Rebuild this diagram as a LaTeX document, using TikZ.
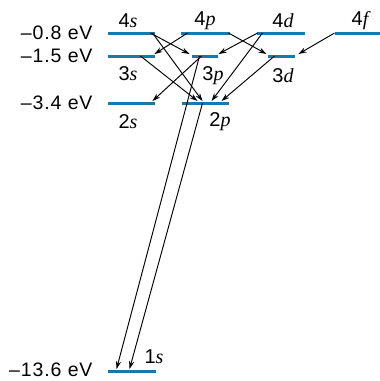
\documentclass[tikz,border=0pt]{standalone}
\usepackage{fontspec}
\setmainfont{Liberation Sans}
\newfontfamily\lserif{Liberation Serif}
\newfontfamily\enfont{Liberation Sans}[LetterSpace=4.5]
\usetikzlibrary{arrows.meta}
\newcommand{\orbl}[1]{{\lserif\itshape #1}}
\definecolor{lvblue}{RGB}{22,122,172}
\begin{document}
\begin{tikzpicture}[x=1pt,y=-1pt,>={Stealth[length=8pt,width=5.2pt]},line width=0.95pt]
  \tikzstyle{level}=[fill=lvblue, inner sep=0pt, minimum height=3pt, draw=none]
  \tikzstyle{energy}=[anchor=east, font=\enfont\fontsize{19.5}{21}\selectfont, inner sep=0pt]
  \tikzstyle{orb}=[font=\fontsize{20}{22}\selectfont, inner sep=0pt]
  \tikzstyle{trans}=[->, black]
  \useasboundingbox (0,0) rectangle (380,381);

  % Energy levels
  \node[level, minimum width=47pt] (s4) at (131.5,33) {};
  \node[level, minimum width=49pt] (p4) at (205.5,33) {};
  \node[level, minimum width=48pt] (d4) at (281,33) {};
  \node[level, minimum width=45pt] (f4) at (357.5,33) {};
  \node[level, minimum width=47pt] (s3) at (131.5,56) {};
  \node[level, minimum width=26pt] (p3) at (205,56) {};
  \node[level, minimum width=27pt] (d3) at (281.5,56) {};
  \node[level, minimum width=47pt] (s2) at (131.5,103) {};
  \node[level, minimum width=47pt] (p2) at (205.5,103) {};
  \node[level, minimum width=48pt] (s1) at (132,371) {};

  % Energy values
  \node[energy] (e4) at (93,33) {\textendash0.8 eV};
  \node[energy] (e3) at (93,56) {\textendash1.5 eV};
  \node[energy] (e2) at (93,103) {\textendash3.4 eV};
  \node[energy] (e1) at (93,370) {\textendash13.6 eV};

  % Orbital labels
  \node[orb] (l4s) at (128,21) {4\orbl{s}};
  \node[orb] (l4p) at (205,21) {4\orbl{p}};
  \node[orb] (l4d) at (283,21) {4\orbl{d}};
  \node[orb] (l4f) at (360,21) {4\orbl{f}};
  \node[orb] (l3s) at (128,74) {3\orbl{s}};
  \node[orb] (l3p) at (213,76) {3\orbl{p}};
  \node[orb] (l3d) at (283,76) {3\orbl{d}};
  \node[orb] (l2s) at (128,122) {2\orbl{s}};
  \node[orb] (l2p) at (220,122) {2\orbl{p}};
  \node[orb] (l1s) at (154,357) {1\orbl{s}};

  % Transitions
  \draw[trans] ([xshift=-5pt]s4.east) -- ([xshift=-2pt]p3.north west);
  \draw[trans] ([xshift=-3pt]s4.east) -- ([xshift=21pt]p2.north west);
  \draw[trans] ([xshift=7pt]p4.west) -- ([xshift=-1pt]s3.north east);
  \draw[trans] ([xshift=-15pt]s3.east) -- ([xshift=16pt]p2.north west);
  \draw[trans] ([xshift=10pt]p3.west) -- ([xshift=-3pt]s2.north east);
  \draw[trans] ([xshift=-2pt]p4.east) -- ([xshift=-1pt]d3.north west);
  \draw[trans] ([xshift=1pt]d4.west) -- (p3.north east);
  \draw[trans] ([xshift=6pt]d4.west) -- ([xshift=30pt]p2.north west);
  \draw[trans] (f4.west) -- ([xshift=3pt]d3.north east);
  \draw[trans] ([xshift=7pt]d3.west) -- ([xshift=40pt]p2.north west);
  \draw[trans] ([xshift=8pt]p3.west) -- ([xshift=9pt]s1.north west);
  \draw[trans] ([xshift=21pt]p2.west) -- ([xshift=22pt]s1.north west);
\end{tikzpicture}
\end{document}
